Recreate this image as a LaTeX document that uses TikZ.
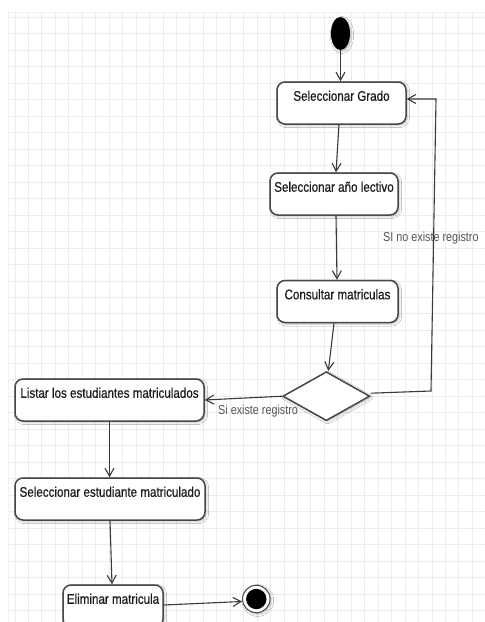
\documentclass[tikz,border=0pt]{standalone}
\usepackage{fontspec}
\setmainfont{Liberation Sans}[FakeStretch=0.83]
\newfontfamily\accionfont{Liberation Sans}[FakeStretch=0.83, FakeBold=0.6]
\usepackage{tikz}
\usetikzlibrary{arrows.meta, positioning, shapes.geometric, shadows.blur}
\definecolor{GridInk}{HTML}{ECECEC}
\definecolor{EdgeInk}{HTML}{3A3A3A}
\definecolor{BoxInk}{HTML}{474747}
\definecolor{TextInk}{HTML}{1C1C1C}
\definecolor{NoteInk}{HTML}{555555}

\begin{document}
\begin{tikzpicture}[x=1pt, y=-1pt,
  accion/.style={draw=BoxInk, line width=1.5pt, rounded corners=8pt, fill=white,
    inner xsep=0pt, inner ysep=0pt, text height=18.8pt, text depth=23.2pt,
    text=TextInk, font=\accionfont\fontsize{14}{16}\selectfont,
    blur shadow={shadow xshift=1.5pt, shadow yshift=-1.5pt, shadow opacity=25, shadow blur steps=4}},
  flujo/.style={draw=EdgeInk, line width=1.1pt, -{Straight Barb[length=8pt, width=9pt]}},
  guarda/.style={text=NoteInk, font=\fontsize{13}{15}\selectfont, inner sep=0pt}]
\clip (0,0) rectangle (485,622);
\fill[white] (0,0) rectangle (485,622);

% rejilla del lienzo
\def\gx{13.45}
\def\gy{16.48}
\draw[GridInk!70, line width=0.8pt] (8,12) -- (485,12);
\draw[GridInk!70, line width=0.8pt] (8,12) -- (8,622);
\foreach \i in {0,...,34}
  \draw[GridInk, line width=0.9pt] ({15+\gx*\i},12) -- ({15+\gx*\i},622);
\foreach \j in {0,...,36}
  \draw[GridInk, line width=0.9pt] (8,{17.3+\gy*\j}) -- (485,{17.3+\gy*\j});

% estados
\node[ellipse, fill=black, minimum width=19pt, minimum height=33pt, inner sep=0pt,
  blur shadow={shadow xshift=1.5pt, shadow yshift=-1.5pt, shadow opacity=25}] (inicio) at (340.5,33.5) {};
\node[accion, minimum width=129pt] (grado) at (341.5,103) {Seleccionar Grado};
\node[accion, minimum width=128pt] (anio) at (334,194) {Seleccionar año lectivo};
\node[accion, minimum width=121pt] (consultar) at (337.5,301.5) {Consultar matriculas};
\node[diamond, draw=BoxInk, line width=1.5pt, fill=white, minimum width=87pt, minimum height=49pt,
  inner sep=0pt, blur shadow={shadow xshift=1.5pt, shadow yshift=-1.5pt, shadow opacity=25}]
  (decision) at (326.3,396.2) {};
\node[accion, minimum width=189pt] (listar) at (109.5,400) {Listar los estudiantes matriculados};
\node[accion, minimum width=190pt] (selest) at (110,499) {Seleccionar estudiante matriculado};
\node[accion, minimum width=100pt] (eliminar) at (113,606) {Eliminar matricula};
\node[circle, draw=BoxInk, line width=1pt, fill=white, minimum size=27.5pt, inner sep=0pt,
  blur shadow={shadow xshift=1.5pt, shadow yshift=-1.5pt, shadow opacity=25}] (fin) at (256.3,599) {};
\fill[black] (fin.center) circle (10.2);

% guardas
\node[guarda, anchor=base west] (siexiste) at (218,414) {Si existe registro};
\node[guarda, anchor=base west] (noexiste) at (383,241.5) {SI no existe registro};

\coordinate (codoA) at (431,391);
\coordinate (codoB) at (436,99);

% transiciones
\draw[flujo] (inicio.south) -- (inicio.south |- grado.north);
\draw[flujo] ([xshift=-2.5pt]grado.south) -- ([xshift=2pt]anio.north);
\draw[flujo] ([xshift=2pt]anio.south) -- ([xshift=-0.5pt]consultar.north);
\draw[flujo] ([xshift=-3.5pt]consultar.south) -- ([xshift=2pt]decision.north);
\draw[flujo] (decision.west) -- (listar.east);
\draw[flujo] ([yshift=3pt]decision.east) -- (codoA) -- (codoB) -- (codoB -| grado.east);
\draw[flujo] (listar.south) -- (listar.south |- selest.north);
\draw[flujo] (selest.south) -- ([xshift=-1pt]eliminar.north);
\draw[flujo] ([yshift=1pt]eliminar.east) -- ([yshift=-2.5pt]fin.west);
\end{tikzpicture}
\end{document}
